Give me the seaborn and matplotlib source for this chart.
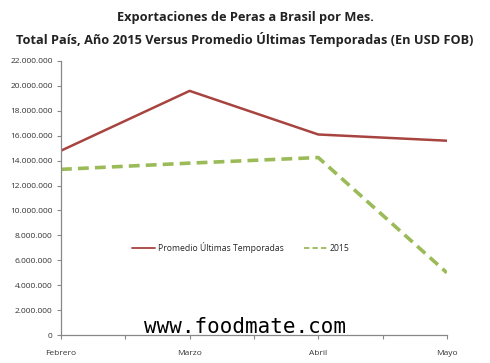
import matplotlib
matplotlib.use("Agg")
import matplotlib.pyplot as plt
import matplotlib.ticker as mticker
import pandas as pd
import seaborn as sns

# Data
meses = ["Febrero", "Marzo", "Abril", "Mayo"]
promedio = [14800000, 19600000, 16100000, 15600000]
anio_2015 = [13300000, 13800000, 14250000, 5000000]
y_ticks = list(range(0, 22000001, 2000000))

df = pd.DataFrame(
    {
        "mes": meses * 2,
        "valor": promedio + anio_2015,
        "serie": ["Promedio Últimas Temporadas"] * 4 + ["2015"] * 4,
    }
)

sns.set_style("white")
plt.rcParams["font.family"] = ["Open Sans", "DejaVu Sans"]

fig = plt.figure(figsize=(4.9, 3.63), dpi=100)
ax = fig.add_axes([0.1245, 0.077, 0.7875, 0.755])

palette = {"Promedio Últimas Temporadas": "#A8443F", "2015": "#9BBB59"}
sns.lineplot(
    data=df, x="mes", y="valor", hue="serie", style="serie",
    dashes={"Promedio Últimas Temporadas": "", "2015": (3.0, 1.7)},
    palette=palette, linewidth=1.8, ax=ax, sort=False,
)
# the 2015 series is drawn thicker in the reference
for line in ax.get_lines():
    if line.get_label() == "2015" or line.get_linestyle() == "--":
        line.set_linewidth(2.6)
ax.get_lines()[1].set_linewidth(2.6)

ax.set_xlim(0, len(meses) - 1)
ax.set_ylim(0, 22000000)
ax.set_yticks(y_ticks)
ax.yaxis.set_major_formatter(
    mticker.FuncFormatter(lambda v, p: f"{int(v):,}".replace(",", "."))
)
ax.set_xticks(range(len(meses)))
ax.set_xticklabels(meses)
ax.xaxis.set_minor_locator(mticker.MultipleLocator(0.5))
ax.set_xlabel("")
ax.set_ylabel("")

for side in ["top", "right"]:
    ax.spines[side].set_visible(False)
for side in ["left", "bottom"]:
    ax.spines[side].set_color("#888888")
    ax.spines[side].set_linewidth(0.9)

ax.tick_params(axis="both", which="both", bottom=True, left=True,
               labelsize=6, labelcolor="#333333", color="#888888",
               length=3, width=0.8, direction="out")
ax.tick_params(axis="x", which="major", pad=8)
ax.tick_params(axis="y", which="major", pad=3)

leg = ax.legend(loc="center", bbox_to_anchor=(0.466, 0.318), ncol=2,
                frameon=False, fontsize=6.2, handlelength=2.7,
                columnspacing=2.3, handletextpad=0.3)
for line in leg.get_lines():
    line.set_linewidth(1.3)

fig.text(0.5, 0.952, "Exportaciones de Peras a Brasil por Mes.",
         ha="center", va="center", fontsize=9.2, fontweight="bold",
         color="#222222")
fig.text(0.5, 0.890,
         "Total País, Año 2015 Versus Promedio Últimas Temporadas (En USD FOB)",
         ha="center", va="center", fontsize=9.2, fontweight="bold",
         color="#222222")

fig.text(0.5, 0.098, "www.foodmate.com", ha="center", va="center",
         fontsize=15, family="DejaVu Sans Mono", color="black")

fig.savefig("out.png", dpi=100)
